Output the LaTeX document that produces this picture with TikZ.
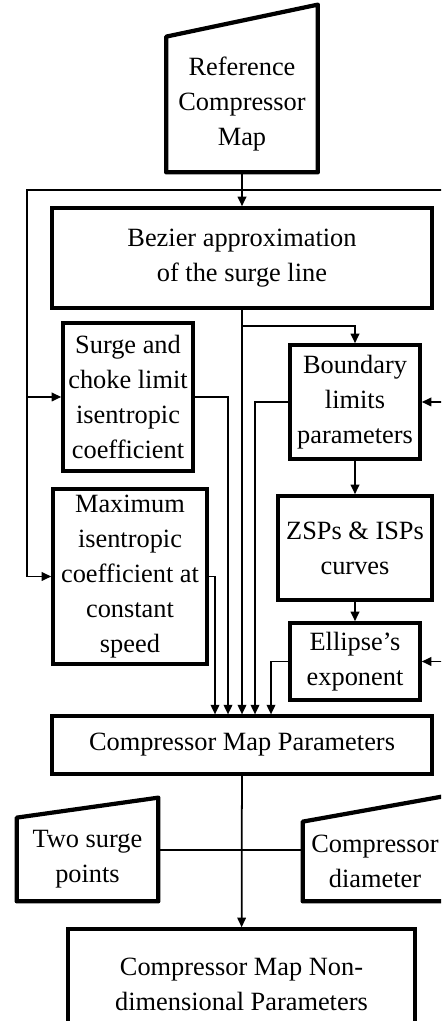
\documentclass[tikz,border=0pt]{standalone}
\usepackage{fontspec}
\setmainfont{Liberation Serif}
\usetikzlibrary{arrows.meta,positioning}

\begin{document}
\begin{tikzpicture}[x=1cm,y=1cm,font={\fontsize{15}{19.9}\selectfont},
 block/.style={draw,line width=2pt,align=center,inner sep=0pt},
 datain/.style={align=center,inner sep=0pt},
 trap/.style={line width=2.4pt,line join=round},
 link/.style={line width=1pt},
 flow/.style={line width=1pt,-{Triangle[length=1.9mm,width=1.7mm]}}]
\useasboundingbox (0,0) rectangle (8.82,20.42);
\clip (0,0) rectangle (8.82,20.42);
\node[datain,minimum width=3.02cm,minimum height=2.7cm] (refmap) at (4.84,18.33) {Reference\\Compressor\\Map};
\draw[trap] (refmap.south west)--(refmap.north west)--([yshift=0.64cm]refmap.north east)--(refmap.south east)--cycle;
\node[block,minimum width=7.6cm,minimum height=2cm] (bezier) at (4.84,15.26) {Bezier approximation\\of the surge line};
\node[block,minimum width=2.6cm,minimum height=2.96cm] (surge) at (2.56,12.48) {Surge and\\choke limit\\isentropic\\coefficient};
\node[block,minimum width=3.08cm,minimum height=3.5cm] (maxcoef) at (2.6,8.89) {Maximum\\isentropic\\coefficient at\\constant\\speed};
\node[block,minimum width=2.6cm,minimum height=2.28cm] (bound) at (7.1,12.38) {Boundary\\limits\\parameters};
\node[block,minimum width=3.08cm,minimum height=2.08cm] (zsp) at (7.1,9.46) {ZSPs \& ISPs\\curves};
\node[block,minimum width=2.6cm,minimum height=1.54cm] (ellip) at (7.1,7.19) {Ellipse’s\\exponent};
\node[block,line width=1.8pt,minimum width=7.6cm,minimum height=1.16cm] (params) at (4.84,5.52) {Compressor Map Parameters};
\node[datain,minimum width=2.82cm,minimum height=1.66cm] (twopts) at (1.75,3.23) {Two surge\\points};
\draw[trap] (twopts.south west)--(twopts.north west)--([yshift=0.4cm]twopts.north east)--(twopts.south east)--cycle;
\node[datain,minimum width=2.88cm,minimum height=1.58cm] (diam) at (7.5,3.19) {Compressor\\diameter};
\draw[trap] (diam.south west)--(diam.north west)--([yshift=0.52cm]diam.north east)--(diam.south east)--cycle;
\node[block,minimum width=6.94cm,minimum height=2.22cm] (nondim) at (4.83,0.73) {Compressor Map Non-\\dimensional Parameters};
\coordinate (loopL) at (0.54,16.62);
\coordinate (loopR) at (9.1,16.62);
\draw[flow] (refmap.south)--(bezier.north);
\draw[flow] (loopR)--(loopL)|-(maxcoef.west);
\draw[flow] (loopL|-surge.west)--(surge.west);
\draw[flow] (loopR)|-(ellip.east);
\draw[flow] (loopR|-bound.east)--(bound.east);
\draw[flow] (bezier.south)--(params.north);
\draw[flow] ([yshift=-0.32cm]bezier.south)-|(bound.north);
\draw[flow] (surge.east)-|([xshift=-0.28cm]params.north);
\draw[flow] (maxcoef.east)-|([xshift=-0.54cm]params.north);
\draw[flow] (bound.west)-|([xshift=0.26cm]params.north);
\draw[flow] (ellip.west)-|([xshift=0.58cm]params.north);
\draw[flow] (bound)--(zsp);
\draw[flow] (zsp)--(ellip);
\draw[flow] (params)--(nondim);
\draw[link] ([yshift=0.19cm]twopts.east)--([yshift=0.19cm]twopts.east-|diam.west);
\end{tikzpicture}
\end{document}
